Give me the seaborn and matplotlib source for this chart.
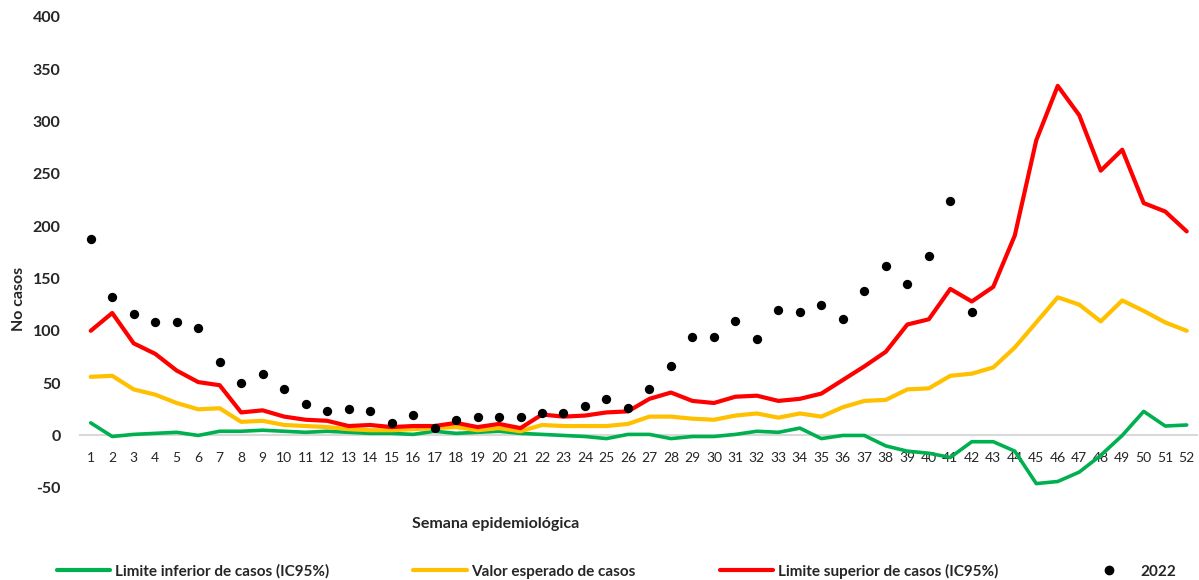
import numpy as np
import pandas as pd
import seaborn as sns
import matplotlib.pyplot as plt
from matplotlib.lines import Line2D

# Semanas epidemiológicas 1..52
weeks = list(range(1, 53))

# Limite inferior de casos (IC95%)
lower = [12, -1, 1, 2, 3, 0, 4, 4, 5, 4, 3, 4, 3, 2, 2, 1, 4, 2, 3, 4,
         2, 1, 0, -1, -3, 1, 1, -3, -1, -1, 1, 4, 3, 7, -3, 0, 0, -10, -15, -17,
         -21, -6, -6, -15, -46, -44, -35, -19, 0, 23, 9, 10]

# Valor esperado de casos
expected = [56, 57, 44, 39, 31, 25, 26, 13, 14, 10, 9, 8, 6, 5, 5, 6, 7, 8, 5, 7,
            4, 10, 9, 9, 9, 11, 18, 18, 16, 15, 19, 21, 17, 21, 18, 27, 33, 34, 44, 45,
            57, 59, 65, 84, 108, 132, 125, 109, 129, 119, 108, 100]

# Limite superior de casos (IC95%)
upper = [100, 117, 88, 78, 62, 51, 48, 22, 24, 18, 15, 14, 9, 10, 8, 9, 9, 12, 8, 11,
         7, 20, 18, 19, 22, 23, 35, 41, 33, 31, 37, 38, 33, 35, 40, 53, 66, 80, 106, 111,
         140, 128, 142, 191, 282, 334, 306, 253, 273, 222, 214, 195]

# Casos 2022 (semanas 1..42)
cases_2022 = [188, 132, 116, 108, 108, 103, 70, 50, 59, 44, 30, 23, 25, 23, 12, 20, 7, 15, 18, 18,
              18, 21, 21, 28, 35, 26, 44, 66, 94, 94, 109, 92, 120, 118, 125, 111, 138, 162, 145, 171,
              224, 118]

series_names = ["Limite inferior de casos (IC95%)", "Valor esperado de casos",
                "Limite superior de casos (IC95%)"]
colors = ["#00B050", "#FFC000", "#FF0000"]

lines = pd.concat([
    pd.DataFrame({"semana": weeks, "casos": vals, "serie": name})
    for name, vals in zip(series_names, [lower, expected, upper])
])
points = pd.DataFrame({"semana": weeks[:len(cases_2022)], "casos": cases_2022, "serie": "2022"})

sns.set_style("white")
plt.rcParams["font.family"] = ["Lato", "DejaVu Sans"]
plt.rcParams["axes.unicode_minus"] = False

fig = plt.figure(figsize=(11.99, 5.8), dpi=100)
ax = fig.add_axes([0.0667, 0.159, 0.932, 0.812])

sns.lineplot(data=lines, x="semana", y="casos", hue="serie", palette=colors,
             hue_order=series_names, linewidth=3, ax=ax, legend=False)
for ln, w in zip(ax.lines, [2.6, 3, 3]):
    ln.set_linewidth(w)
sns.scatterplot(data=points, x="semana", y="casos", color="black", s=45,
                edgecolor="black", linewidth=0, ax=ax, legend=False, zorder=5)

ax.set_xlim(0.5, 52.5)
ax.set_ylim(-50, 400)
ax.set_yticks(range(-50, 401, 50))
ax.set_xticks(weeks)
ax.set_xticklabels([str(w) for w in weeks], fontsize=12)
for lab in ax.get_yticklabels():
    lab.set_fontweight("bold")
    lab.set_fontsize(11.5)

for s in ["top", "right", "left"]:
    ax.spines[s].set_visible(False)
# zero line behind the series, like the Excel category axis
ax.spines["bottom"].set_position(("data", 0))
ax.spines["bottom"].set_color("#d9d9d9")
ax.spines["bottom"].set_linewidth(1.5)
ax.spines["bottom"].set_zorder(0.5)
ax.tick_params(axis="x", length=0, pad=12)
ax.tick_params(axis="y", length=0, pad=14)

ax.set_xlabel("Semana epidemiológica", fontsize=11.5, fontweight="bold")
ax.xaxis.set_label_coords(0.372, -0.062)
ax.set_ylabel("No casos", fontsize=11.5, fontweight="bold")
ax.yaxis.set_label_coords(-0.048, 0.4)

handles = [Line2D([], [], color=c, linewidth=3) for c in colors]
handles.append(Line2D([], [], color="black", marker="o", linestyle="", markersize=6))
fig.legend(handles, series_names + ["2022"], loc="center left", ncol=4,
           bbox_to_anchor=(0.0475, 0.015), frameon=False,
           prop={"size": 11, "weight": "bold"}, handlelength=3.5,
           handletextpad=0.3, columnspacing=5.5, borderpad=0, borderaxespad=0)

fig.savefig("out.png", dpi=100)
